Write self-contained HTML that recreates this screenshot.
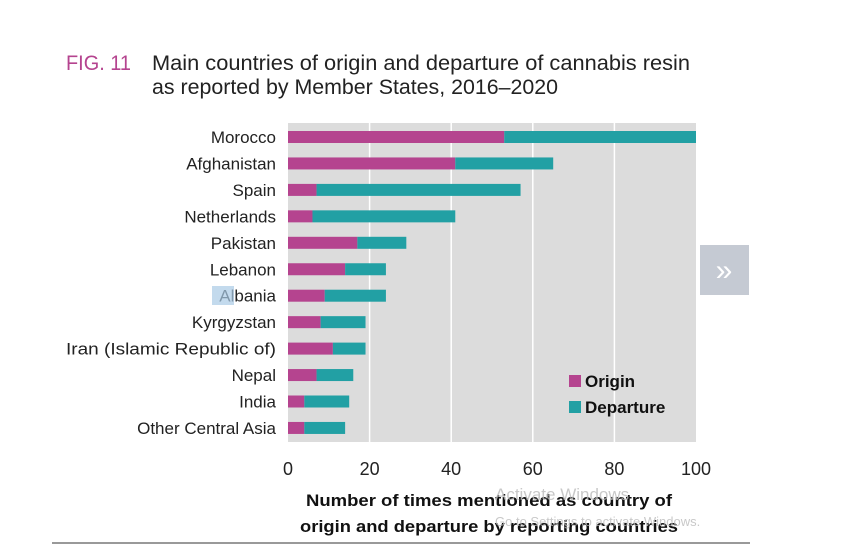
<!DOCTYPE html>
<html><head><meta charset="utf-8"><style>
html,body{margin:0;padding:0;background:#fff;}
svg{display:block;font-family:"Liberation Sans",sans-serif;}
</style></head><body>
<svg width="864" height="544" viewBox="0 0 864 544" xmlns="http://www.w3.org/2000/svg">
<text x="66" y="70" font-size="21" fill="#b5448f" textLength="65" lengthAdjust="spacingAndGlyphs">FIG. 11</text>
<text x="152" y="70" font-size="21" fill="#222" textLength="538" lengthAdjust="spacingAndGlyphs">Main countries of origin and departure of cannabis resin</text>
<text x="152" y="94" font-size="21" fill="#222" textLength="406" lengthAdjust="spacingAndGlyphs">as reported by Member States, 2016–2020</text>
<rect x="288" y="123" width="408" height="319" fill="#dcdcdc"/>
<g stroke="#fff" stroke-width="1.5">
<line x1="369.6" y1="123" x2="369.6" y2="442"/><line x1="451.2" y1="123" x2="451.2" y2="442"/>
<line x1="532.8" y1="123" x2="532.8" y2="442"/><line x1="614.4" y1="123" x2="614.4" y2="442"/>
</g>
<g fill="#b5448f">
<rect x="288" y="131" width="216.24" height="12"/>
<rect x="288" y="157.45" width="167.28" height="12"/>
<rect x="288" y="183.9" width="28.56" height="12"/>
<rect x="288" y="210.35" width="24.48" height="12"/>
<rect x="288" y="236.8" width="69.36" height="12"/>
<rect x="288" y="263.25" width="57.12" height="12"/>
<rect x="288" y="289.7" width="36.72" height="12"/>
<rect x="288" y="316.15" width="32.64" height="12"/>
<rect x="288" y="342.6" width="44.88" height="12"/>
<rect x="288" y="369.05" width="28.56" height="12"/>
<rect x="288" y="395.5" width="16.32" height="12"/>
<rect x="288" y="421.95" width="16.32" height="12"/>
</g>
<g fill="#22a0a4">
<rect x="504.24" y="131" width="191.76" height="12"/>
<rect x="455.28" y="157.45" width="97.92" height="12"/>
<rect x="316.56" y="183.9" width="204" height="12"/>
<rect x="312.48" y="210.35" width="142.8" height="12"/>
<rect x="357.36" y="236.8" width="48.96" height="12"/>
<rect x="345.12" y="263.25" width="40.8" height="12"/>
<rect x="324.72" y="289.7" width="61.2" height="12"/>
<rect x="320.64" y="316.15" width="44.88" height="12"/>
<rect x="332.88" y="342.6" width="32.64" height="12"/>
<rect x="316.56" y="369.05" width="36.72" height="12"/>
<rect x="304.32" y="395.5" width="44.88" height="12"/>
<rect x="304.32" y="421.95" width="40.8" height="12"/>
</g>
<g font-size="17" fill="#222" text-anchor="end">
<text x="276" y="143">Morocco</text>
<text x="276" y="169.5">Afghanistan</text>
<text x="276" y="196">Spain</text>
<text x="276" y="222.4">Netherlands</text>
<text x="276" y="248.8">Pakistan</text>
<text x="276" y="275.3">Lebanon</text>
<text x="276" y="301.7">Albania</text>
<text x="276" y="328.2">Kyrgyzstan</text>
<text x="276" y="354.6" textLength="210" lengthAdjust="spacingAndGlyphs">Iran (Islamic Republic of)</text>
<text x="276" y="381">Nepal</text>
<text x="276" y="407.5">India</text>
<text x="276" y="434">Other Central Asia</text>
</g>
<rect x="212" y="286" width="22" height="19" fill="#a9cbe6" opacity="0.7"/>
<rect x="569" y="375" width="12" height="12" fill="#b5448f"/>
<rect x="569" y="401" width="12" height="12" fill="#22a0a4"/>
<text x="585" y="387" font-size="17" font-weight="bold" fill="#111">Origin</text>
<text x="585" y="413" font-size="17" font-weight="bold" fill="#111">Departure</text>
<g font-size="18" fill="#222" text-anchor="middle">
<text x="288" y="475">0</text><text x="369.6" y="475">20</text><text x="451.2" y="475">40</text>
<text x="532.8" y="475">60</text><text x="614.4" y="475">80</text><text x="696" y="475">100</text>
</g>
<g font-size="17" font-weight="bold" fill="#111" text-anchor="middle">
<text x="489" y="506" textLength="366" lengthAdjust="spacingAndGlyphs">Number of times mentioned as country of</text>
<text x="489" y="532" textLength="378" lengthAdjust="spacingAndGlyphs">origin and departure by reporting countries</text>
</g>
<text x="495" y="500" font-size="17" fill="#bbb" opacity="0.8">Activate Windows</text>
<text x="495" y="526" font-size="13" fill="#bbb" opacity="0.8">Go to Settings to activate Windows.</text>
<rect x="700" y="245" width="49" height="50" fill="#c5cad3"/>
<text x="724" y="280" font-size="30" fill="#fff" text-anchor="middle">»</text>
<line x1="52" y1="543" x2="750" y2="543" stroke="#333" stroke-width="1"/>
</svg>
</body></html>
